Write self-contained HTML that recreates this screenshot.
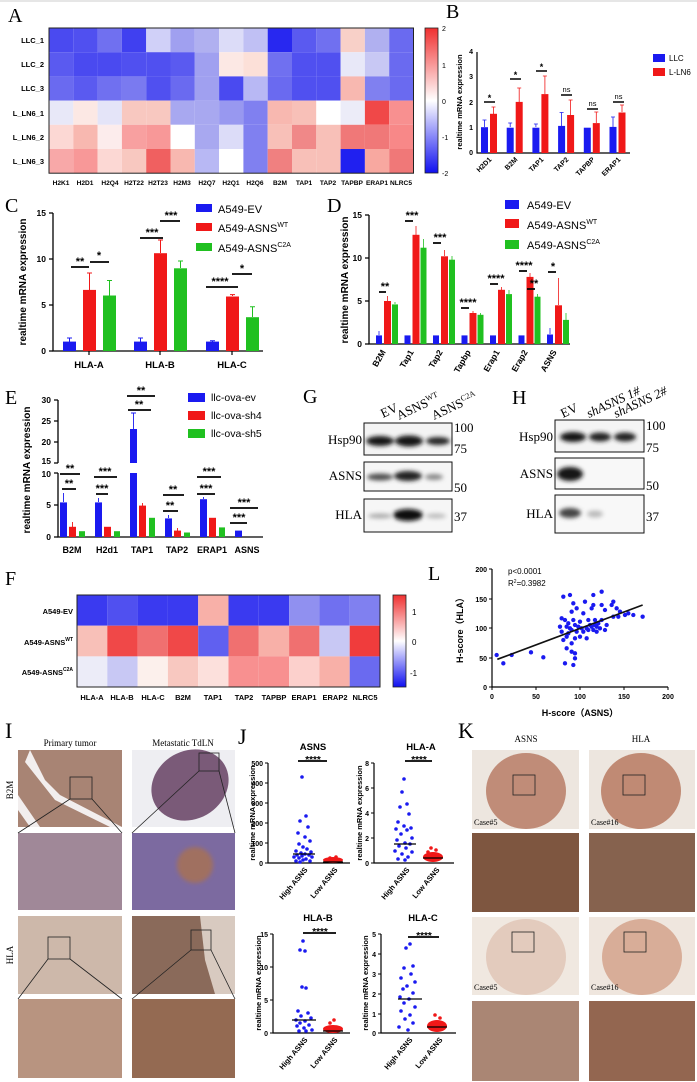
<!DOCTYPE html>
<html><head><meta charset="utf-8"><style>
body{margin:0;background:#fff}
svg{display:block}
.t{font-family:"Liberation Sans",sans-serif;font-weight:bold}
.s{font-family:"Liberation Serif",serif}
</style></head><body>
<svg width="697" height="1082" viewBox="0 0 697 1082" xmlns="http://www.w3.org/2000/svg">
<defs>
<linearGradient id="cb" x1="0" y1="0" x2="0" y2="1"><stop offset="0" stop-color="#f03030"/><stop offset="0.5" stop-color="#ffffff"/><stop offset="1" stop-color="#1010f0"/></linearGradient>
<filter id="bl"><feGaussianBlur stdDeviation="2"/></filter>
</defs>
<line x1="0" y1="1" x2="697" y2="1" stroke="#ccc"/>
<!-- A -->
<text x="8" y="22" class="s" font-size="20">A</text>
<g transform="translate(49,28)">
<rect x="0" y="0" width="24.3" height="24.2" fill="#4a4af0"/><rect x="24.3" y="0" width="24.3" height="24.2" fill="#5050f0"/><rect x="48.6" y="0" width="24.3" height="24.2" fill="#7070f0"/><rect x="72.9" y="0" width="24.3" height="24.2" fill="#4040f0"/><rect x="97.2" y="0" width="24.3" height="24.2" fill="#d0d0f8"/><rect x="121.5" y="0" width="24.3" height="24.2" fill="#a0a0f0"/><rect x="145.8" y="0" width="24.3" height="24.2" fill="#b0b0f0"/><rect x="170.1" y="0" width="24.3" height="24.2" fill="#dcdcf8"/><rect x="194.4" y="0" width="24.3" height="24.2" fill="#c0c0f4"/><rect x="218.7" y="0" width="24.3" height="24.2" fill="#2828f0"/><rect x="243" y="0" width="24.3" height="24.2" fill="#5a5af0"/><rect x="267.3" y="0" width="24.3" height="24.2" fill="#7070f0"/><rect x="291.6" y="0" width="24.3" height="24.2" fill="#f8d0c8"/><rect x="315.9" y="0" width="24.3" height="24.2" fill="#b0b0f0"/><rect x="340.2" y="0" width="24.3" height="24.2" fill="#6a6af0"/>
<rect x="0" y="24.2" width="24.3" height="24.2" fill="#5a5af0"/><rect x="24.3" y="24.2" width="24.3" height="24.2" fill="#4a4af0"/><rect x="48.6" y="24.2" width="24.3" height="24.2" fill="#4a4af0"/><rect x="72.9" y="24.2" width="24.3" height="24.2" fill="#5050f0"/><rect x="97.2" y="24.2" width="24.3" height="24.2" fill="#5050f0"/><rect x="121.5" y="24.2" width="24.3" height="24.2" fill="#5a5af0"/><rect x="145.8" y="24.2" width="24.3" height="24.2" fill="#a0a0f0"/><rect x="170.1" y="24.2" width="24.3" height="24.2" fill="#fce8e4"/><rect x="194.4" y="24.2" width="24.3" height="24.2" fill="#fce0d8"/><rect x="218.7" y="24.2" width="24.3" height="24.2" fill="#7070f0"/><rect x="243" y="24.2" width="24.3" height="24.2" fill="#5050f0"/><rect x="267.3" y="24.2" width="24.3" height="24.2" fill="#5050f0"/><rect x="291.6" y="24.2" width="24.3" height="24.2" fill="#e8e8f8"/><rect x="315.9" y="24.2" width="24.3" height="24.2" fill="#c8c8f4"/><rect x="340.2" y="24.2" width="24.3" height="24.2" fill="#6a6af0"/>
<rect x="0" y="48.4" width="24.3" height="24.2" fill="#6a6af0"/><rect x="24.3" y="48.4" width="24.3" height="24.2" fill="#5a5af0"/><rect x="48.6" y="48.4" width="24.3" height="24.2" fill="#7070f0"/><rect x="72.9" y="48.4" width="24.3" height="24.2" fill="#7a7af0"/><rect x="97.2" y="48.4" width="24.3" height="24.2" fill="#5050f0"/><rect x="121.5" y="48.4" width="24.3" height="24.2" fill="#6a6af0"/><rect x="145.8" y="48.4" width="24.3" height="24.2" fill="#a0a0f0"/><rect x="170.1" y="48.4" width="24.3" height="24.2" fill="#4a4af0"/><rect x="194.4" y="48.4" width="24.3" height="24.2" fill="#b8b8f4"/><rect x="218.7" y="48.4" width="24.3" height="24.2" fill="#6a6af0"/><rect x="243" y="48.4" width="24.3" height="24.2" fill="#5050f0"/><rect x="267.3" y="48.4" width="24.3" height="24.2" fill="#5050f0"/><rect x="291.6" y="48.4" width="24.3" height="24.2" fill="#f8b8b0"/><rect x="315.9" y="48.4" width="24.3" height="24.2" fill="#8080f0"/><rect x="340.2" y="48.4" width="24.3" height="24.2" fill="#6a6af0"/>
<rect x="0" y="72.6" width="24.3" height="24.2" fill="#e8e8f8"/><rect x="24.3" y="72.6" width="24.3" height="24.2" fill="#fce8e4"/><rect x="48.6" y="72.6" width="24.3" height="24.2" fill="#e4e4f8"/><rect x="72.9" y="72.6" width="24.3" height="24.2" fill="#f8c8c0"/><rect x="97.2" y="72.6" width="24.3" height="24.2" fill="#f8c8c0"/><rect x="121.5" y="72.6" width="24.3" height="24.2" fill="#a8a8f0"/><rect x="145.8" y="72.6" width="24.3" height="24.2" fill="#a8a8f0"/><rect x="170.1" y="72.6" width="24.3" height="24.2" fill="#9898f0"/><rect x="194.4" y="72.6" width="24.3" height="24.2" fill="#8080f0"/><rect x="218.7" y="72.6" width="24.3" height="24.2" fill="#f8b8b0"/><rect x="243" y="72.6" width="24.3" height="24.2" fill="#f8c0b8"/><rect x="267.3" y="72.6" width="24.3" height="24.2" fill="#ffffff"/><rect x="291.6" y="72.6" width="24.3" height="24.2" fill="#ececf8"/><rect x="315.9" y="72.6" width="24.3" height="24.2" fill="#f04848"/><rect x="340.2" y="72.6" width="24.3" height="24.2" fill="#f89090"/>
<rect x="0" y="96.8" width="24.3" height="24.2" fill="#fcd8d4"/><rect x="24.3" y="96.8" width="24.3" height="24.2" fill="#f8b8b0"/><rect x="48.6" y="96.8" width="24.3" height="24.2" fill="#fcecec"/><rect x="72.9" y="96.8" width="24.3" height="24.2" fill="#f8a0a0"/><rect x="97.2" y="96.8" width="24.3" height="24.2" fill="#f89898"/><rect x="121.5" y="96.8" width="24.3" height="24.2" fill="#ffffff"/><rect x="145.8" y="96.8" width="24.3" height="24.2" fill="#a8a8f0"/><rect x="170.1" y="96.8" width="24.3" height="24.2" fill="#dcdcf8"/><rect x="194.4" y="96.8" width="24.3" height="24.2" fill="#8080f0"/><rect x="218.7" y="96.8" width="24.3" height="24.2" fill="#f8c0b8"/><rect x="243" y="96.8" width="24.3" height="24.2" fill="#f08888"/><rect x="267.3" y="96.8" width="24.3" height="24.2" fill="#f8c0b8"/><rect x="291.6" y="96.8" width="24.3" height="24.2" fill="#f07878"/><rect x="315.9" y="96.8" width="24.3" height="24.2" fill="#f07878"/><rect x="340.2" y="96.8" width="24.3" height="24.2" fill="#f88888"/>
<rect x="0" y="121" width="24.3" height="24.2" fill="#f8a8a8"/><rect x="24.3" y="121" width="24.3" height="24.2" fill="#f89898"/><rect x="48.6" y="121" width="24.3" height="24.2" fill="#fcd8d4"/><rect x="72.9" y="121" width="24.3" height="24.2" fill="#f8c8c0"/><rect x="97.2" y="121" width="24.3" height="24.2" fill="#f06060"/><rect x="121.5" y="121" width="24.3" height="24.2" fill="#f8b8b0"/><rect x="145.8" y="121" width="24.3" height="24.2" fill="#b8b8f4"/><rect x="170.1" y="121" width="24.3" height="24.2" fill="#ffffff"/><rect x="194.4" y="121" width="24.3" height="24.2" fill="#8080f0"/><rect x="218.7" y="121" width="24.3" height="24.2" fill="#f08080"/><rect x="243" y="121" width="24.3" height="24.2" fill="#f8c0b8"/><rect x="267.3" y="121" width="24.3" height="24.2" fill="#f8c0b8"/><rect x="291.6" y="121" width="24.3" height="24.2" fill="#2020f0"/><rect x="315.9" y="121" width="24.3" height="24.2" fill="#f8a8a0"/><rect x="340.2" y="121" width="24.3" height="24.2" fill="#f07878"/>
<rect x="0" y="0" width="364.5" height="145.2" fill="none" stroke="#222" stroke-width="1"/>
</g>
<g class="t" font-size="7.5" text-anchor="end">
<text x="44" y="43">LLC_1</text><text x="44" y="67">LLC_2</text><text x="44" y="91">LLC_3</text><text x="44" y="116">L_LN6_1</text><text x="44" y="140">L_LN6_2</text><text x="44" y="164">L_LN6_3</text>
</g>
<g class="t" font-size="6.6" text-anchor="middle">
<text x="61" y="185">H2K1</text><text x="85" y="185">H2D1</text><text x="110" y="185">H2Q4</text><text x="134" y="185">H2T22</text><text x="158" y="185">H2T23</text><text x="182" y="185">H2M3</text><text x="207" y="185">H2Q7</text><text x="231" y="185">H2Q1</text><text x="255" y="185">H2Q6</text><text x="280" y="185">B2M</text><text x="304" y="185">TAP1</text><text x="328" y="185">TAP2</text><text x="352" y="185">TAPBP</text><text x="377" y="185">ERAP1</text><text x="401" y="185">NLRC5</text>
</g>
<rect x="425" y="28" width="13" height="145" fill="url(#cb)" stroke="#222" stroke-width="0.8"/>
<g font-family="Liberation Sans,sans-serif" font-size="7"><text x="442" y="31">2</text><text x="442" y="68">1</text><text x="442" y="104">0</text><text x="442" y="140">-1</text><text x="442" y="176">-2</text></g>

<!-- B -->
<text x="446" y="18" class="s" font-size="20">B</text>
<g stroke="#000" stroke-width="1.2" fill="none"><path d="M477 52V153H630"/></g>
<g class="t" font-size="7" text-anchor="end"><text x="473" y="155">0</text><text x="473" y="130">1</text><text x="473" y="105">2</text><text x="473" y="79">3</text><text x="473" y="54">4</text></g>
<text transform="translate(462,102) rotate(-90)" class="t" font-size="7.5" text-anchor="middle">realtime mRNA expression</text>
<g fill="#1a1af0">
<rect x="481" y="127.2" width="7" height="25.8"/><rect x="506.7" y="127.7" width="7" height="25.3"/><rect x="532.4" y="127.7" width="7" height="25.3"/><rect x="558.1" y="125.9" width="7" height="27.1"/><rect x="583.8" y="127.7" width="7" height="25.3"/><rect x="609.5" y="126.9" width="7" height="26.1"/>
</g>
<g fill="#f01818">
<rect x="490" y="113.8" width="7" height="39.2"/><rect x="515.7" y="101.9" width="7" height="51.1"/><rect x="541.4" y="94.1" width="7" height="58.9"/><rect x="567.1" y="115" width="7" height="38"/><rect x="592.8" y="123.1" width="7" height="29.9"/><rect x="618.5" y="112.5" width="7" height="40.5"/>
</g>
<g stroke="#1a1af0" stroke-width="0.8"><path d="M484.5 127V120M482.5 120h4M510.2 127V123M508.2 123h4M535.9 127V124M533.9 124h4M561.6 126V112.5M559.6 112.5h4M613 127V117M611 117h4"/></g>
<g stroke="#f01818" stroke-width="0.8"><path d="M493.5 114V107M491.5 107h4M519.2 102V88M517.2 88h4M544.9 94V76M542.9 76h4M570.6 115V100M568.6 100h4M596.3 123V112M594.3 112h4M622 112V105M620 105h4"/></g>
<g stroke="#000" stroke-width="1.5"><path d="M484 102H495M510 79H521M536 71H547M561 95H572M587 109H598M613 102H624"/></g>
<g class="t" font-size="9" text-anchor="middle"><text x="489.5" y="101">*</text><text x="515.5" y="78">*</text><text x="541.5" y="70">*</text></g>
<g font-family="Liberation Sans,sans-serif" font-size="7.5" text-anchor="middle"><text x="566.5" y="92">ns</text><text x="592.5" y="106">ns</text><text x="618.5" y="99">ns</text></g>
<g class="t" font-size="7" text-anchor="end">
<text transform="translate(492,160) rotate(-45)">H2D1</text><text transform="translate(518,160) rotate(-45)">B2M</text><text transform="translate(544,160) rotate(-45)">TAP1</text><text transform="translate(569,160) rotate(-45)">TAP2</text><text transform="translate(595,160) rotate(-45)">TAPBP</text><text transform="translate(621,160) rotate(-45)">ERAP1</text>
</g>
<rect x="653" y="54" width="12" height="8" fill="#1a1af0"/><rect x="653" y="68" width="12" height="8" fill="#f01818"/>
<g font-family="Liberation Sans,sans-serif" font-size="8"><text x="669" y="61">LLC</text><text x="669" y="75">L-LN6</text></g>

<!-- C -->
<text x="5" y="212" class="s" font-size="20">C</text>
<path d="M53 213V351H263" stroke="#000" stroke-width="1.3" fill="none"/>
<g stroke="#000" stroke-width="1.2"><path d="M49 213h4M49 259h4M49 305h4M49 351h4M89 351v4M160 351v4M232 351v4"/></g>
<g class="t" font-size="8.5" text-anchor="end"><text x="46" y="216">15</text><text x="46" y="262">10</text><text x="46" y="308">5</text><text x="46" y="354">0</text></g>
<text transform="translate(26,282) rotate(-90)" class="t" font-size="10" text-anchor="middle">realtime mRNA expression</text>
<g fill="#1a1af0"><rect x="63" y="341.6" width="13" height="9.4"/><rect x="134" y="341.6" width="13" height="9.4"/><rect x="206" y="341.6" width="13" height="9.4"/></g>
<g fill="#f01818"><rect x="83" y="289.9" width="13" height="61.1"/><rect x="154" y="253.2" width="13" height="97.8"/><rect x="226" y="296.5" width="13" height="54.5"/></g>
<g fill="#20c020"><rect x="103" y="295.5" width="13" height="55.5"/><rect x="174" y="268.3" width="13" height="82.7"/><rect x="246" y="317.2" width="13" height="33.8"/></g>
<g stroke="#1a1af0"><path d="M69.5 342V338M67 338h5M140.5 342V338M138 338h5M212.5 342V340.7M210 340.7h5"/></g>
<g stroke="#f01818"><path d="M89.5 290V273M87 273h5M160.5 253V240M158 240h5M232.5 296V294.6M230 294.6h5"/></g>
<g stroke="#20c020"><path d="M109.5 296V280.5M107 280.5h5M180.5 268V261M178 261h5M252.5 317V306.8M250 306.8h5"/></g>
<g stroke="#000" stroke-width="1.8"><path d="M71 267H89M90 262H109M140 238H163M160 221H180M206 287H238M232 274H252"/></g>
<g class="t" font-size="11" text-anchor="middle"><text x="80" y="265">**</text><text x="99" y="259">*</text><text x="152" y="236">***</text><text x="171" y="219">***</text><text x="220" y="285">****</text><text x="242" y="272">*</text></g>
<g class="t" font-size="9.5" text-anchor="middle"><text x="89" y="368">HLA-A</text><text x="160" y="368">HLA-B</text><text x="232" y="368">HLA-C</text></g>
<rect x="196" y="204" width="16" height="8" fill="#1a1af0"/><rect x="196" y="223" width="16" height="8" fill="#f01818"/><rect x="196" y="243" width="16" height="8" fill="#20c020"/>
<g font-family="Liberation Sans,sans-serif" font-size="11"><text x="218" y="213">A549-EV</text><text x="218" y="232">A549-ASNS<tspan font-size="7" dy="-5">WT</tspan></text><text x="218" y="252">A549-ASNS<tspan font-size="7" dy="-5">C2A</tspan></text></g>

<!-- D -->
<text x="327" y="212" class="s" font-size="20">D</text>
<path d="M369 215V344H570" stroke="#000" stroke-width="1.3" fill="none"/>
<g stroke="#000" stroke-width="1.2"><path d="M365 215h4M365 258h4M365 301h4M365 344h4"/></g>
<g class="t" font-size="8.5" text-anchor="end"><text x="362" y="218">15</text><text x="362" y="261">10</text><text x="362" y="304">5</text><text x="362" y="347">0</text></g>
<text transform="translate(348,280) rotate(-90)" class="t" font-size="10" text-anchor="middle">realtime mRNA expression</text>
<g fill="#1a1af0"><rect x="376" y="335.4" width="6" height="8.6"/><rect x="404.5" y="335.4" width="6" height="8.6"/><rect x="433" y="335.4" width="6" height="8.6"/><rect x="461.5" y="335.4" width="6" height="8.6"/><rect x="490" y="335.4" width="6" height="8.6"/><rect x="518.5" y="335.4" width="6" height="8.6"/><rect x="547" y="334.5" width="6" height="9.5"/></g>
<g fill="#f01818"><rect x="384" y="301" width="7" height="43"/><rect x="412.5" y="234.8" width="7" height="109.2"/><rect x="441" y="256.3" width="7" height="87.7"/><rect x="469.5" y="313" width="7" height="31"/><rect x="498" y="289.8" width="7" height="54.2"/><rect x="526.5" y="276.9" width="7" height="67.1"/><rect x="555" y="305.3" width="7" height="38.7"/></g>
<g fill="#20c020"><rect x="392" y="304.4" width="6" height="39.6"/><rect x="420.5" y="247.7" width="6" height="96.3"/><rect x="449" y="259.7" width="6" height="84.3"/><rect x="477.5" y="314.8" width="6" height="29.2"/><rect x="506" y="294.1" width="6" height="49.9"/><rect x="534.5" y="296.7" width="6" height="47.3"/><rect x="563" y="319.9" width="6" height="24.1"/></g>
<g stroke="#f01818" stroke-width="0.8"><path d="M387.5 301v-5M416 235v-9M444.5 256v-6M473 313v-2M501.5 290v-3M530 277v-4M558.5 305v-27"/></g>
<g stroke="#20c020" stroke-width="0.8"><path d="M395 304v-2M423.5 248v-9M452 260v-4M480.5 315v-2M509 294v-4M537.5 297v-3M566 320v-7"/></g>
<g stroke="#1a1af0" stroke-width="0.8"><path d="M379 335v-4M550 334v-6"/></g>
<g stroke="#000" stroke-width="1.8"><path d="M379 292H386M405 221H413M433 243H441M461 308H469M490 284H498M519 271H527M527 289H535M548 272H556"/></g>
<g class="t" font-size="11" text-anchor="middle"><text x="385" y="290">**</text><text x="412" y="219">***</text><text x="440" y="241">***</text><text x="468" y="306">****</text><text x="496" y="282">****</text><text x="524" y="269">****</text><text x="534" y="287">**</text><text x="553" y="270">*</text></g>
<g class="t" font-size="8.5" text-anchor="end">
<text transform="translate(386,352) rotate(-60)">B2M</text><text transform="translate(414,352) rotate(-60)">Tap1</text><text transform="translate(443,352) rotate(-60)">Tap2</text><text transform="translate(471,352) rotate(-60)">Tapbp</text><text transform="translate(500,352) rotate(-60)">Erap1</text><text transform="translate(528,352) rotate(-60)">Erap2</text><text transform="translate(557,352) rotate(-60)">ASNS</text>
</g>
<rect x="505" y="200" width="14" height="9" fill="#1a1af0"/><rect x="505" y="219" width="14" height="9" fill="#f01818"/><rect x="505" y="240" width="14" height="9" fill="#20c020"/>
<g font-family="Liberation Sans,sans-serif" font-size="11"><text x="527" y="209">A549-EV</text><text x="527" y="229">A549-ASNS<tspan font-size="7" dy="-5">WT</tspan></text><text x="527" y="249">A549-ASNS<tspan font-size="7" dy="-5">C2A</tspan></text></g>

<!-- E -->
<text x="5" y="404" class="s" font-size="20">E</text>
<path d="M58 400V463M58 473V537H263" stroke="#000" stroke-width="1.3" fill="none"/>
<g stroke="#000" stroke-width="1.2"><path d="M54 400h4M54 421h4M54 442h4M54 463h4M54 473h4M54 505h4M54 537h4"/></g>
<g class="t" font-size="8.5" text-anchor="end"><text x="51" y="403">30</text><text x="51" y="424">25</text><text x="51" y="445">20</text><text x="51" y="464">15</text><text x="51" y="477">10</text><text x="51" y="508">5</text><text x="51" y="540">0</text></g>
<text transform="translate(30,470) rotate(-90)" class="t" font-size="10" text-anchor="middle">realtime mRNA expression</text>
<g fill="#1a1af0"><rect x="60" y="502.4" width="7" height="34.6"/><rect x="95" y="502.4" width="7" height="34.6"/><rect x="130" y="473" width="7" height="64"/><rect x="130" y="429" width="7" height="34"/><rect x="165" y="518.4" width="7" height="18.6"/><rect x="200" y="499.2" width="7" height="37.8"/><rect x="235" y="530.6" width="7" height="6.4"/></g>
<g fill="#f01818"><rect x="69" y="526.8" width="7" height="10.2"/><rect x="104" y="526.8" width="7" height="10.2"/><rect x="139" y="505.6" width="7" height="31.4"/><rect x="174" y="530.6" width="7" height="6.4"/><rect x="209" y="517.8" width="7" height="19.2"/></g>
<g fill="#20c020"><rect x="79" y="531.2" width="6" height="5.8"/><rect x="114" y="531.2" width="6" height="5.8"/><rect x="149" y="517.8" width="6" height="19.2"/><rect x="184" y="532.5" width="6" height="4.5"/><rect x="219" y="527.4" width="6" height="9.6"/></g>
<g stroke="#1a1af0" stroke-width="0.9"><path d="M63.5 502v-9M98.5 502v-4M133.5 429v-16M131 413h5M168.5 518v-3M203.5 499v-2"/></g>
<g stroke="#f01818" stroke-width="0.9"><path d="M72.5 527v-5M142.5 506v-3M177.5 531v-3"/></g>
<g stroke="#000" stroke-width="1.8"><path d="M60 474H80M62 489H76M94 477H117M96 494H108M127 396H155M128 410H151M163 495H184M163 511H178M197 477H221M197 494H215M230 508H258M230 523H247"/></g>
<g class="t" font-size="11" text-anchor="middle"><text x="70" y="472">**</text><text x="69" y="487">**</text><text x="105" y="475">***</text><text x="102" y="492">***</text><text x="141" y="394">**</text><text x="139" y="408">**</text><text x="173" y="493">**</text><text x="170" y="509">**</text><text x="209" y="475">***</text><text x="206" y="492">***</text><text x="244" y="506">***</text><text x="239" y="521">***</text></g>
<g class="t" font-size="9" text-anchor="middle"><text x="72" y="553">B2M</text><text x="107" y="553">H2d1</text><text x="142" y="553">TAP1</text><text x="177" y="553">TAP2</text><text x="212" y="553">ERAP1</text><text x="247" y="553">ASNS</text></g>
<rect x="188" y="393" width="17" height="9" fill="#1a1af0"/><rect x="188" y="411" width="17" height="9" fill="#f01818"/><rect x="188" y="429" width="17" height="9" fill="#20c020"/>
<g font-family="Liberation Sans,sans-serif" font-size="10.5"><text x="211" y="401">llc-ova-ev</text><text x="211" y="419">llc-ova-sh4</text><text x="211" y="437">llc-ova-sh5</text></g>

<!-- G -->
<text x="303" y="403" class="s" font-size="20">G</text>
<g class="s" font-size="13"><text transform="translate(383,418) rotate(-25)">EV</text><text transform="translate(399,420) rotate(-25)">ASNS<tspan font-size="8" dy="-5">WT</tspan></text><text transform="translate(434,420) rotate(-25)">ASNS<tspan font-size="8" dy="-5">C2A</tspan></text></g>
<rect x="364" y="423" width="88" height="32" fill="#f4f4f4" stroke="#111"/>
<rect x="364" y="462" width="88" height="29" fill="#f6f6f6" stroke="#111"/>
<rect x="364" y="499" width="88" height="33" fill="#f6f6f6" stroke="#111"/>
<g filter="url(#bl)"><ellipse cx="380" cy="441" rx="14" ry="5" fill="#181818"/><ellipse cx="409" cy="441" rx="14" ry="5.5" fill="#181818"/><ellipse cx="438" cy="441" rx="12" ry="4" fill="#282828"/>
<ellipse cx="380" cy="477" rx="13" ry="3.5" fill="#505050"/><ellipse cx="408" cy="476" rx="14" ry="5" fill="#222"/><ellipse cx="434" cy="477" rx="9" ry="3" fill="#888"/>
<ellipse cx="380" cy="516" rx="12" ry="2.5" fill="#aaa"/><ellipse cx="408" cy="515" rx="15" ry="6" fill="#111"/><ellipse cx="436" cy="516" rx="10" ry="2.5" fill="#bbb"/></g>
<g class="s" font-size="13" text-anchor="end"><text x="362" y="444">Hsp90</text><text x="362" y="480">ASNS</text><text x="362" y="519">HLA</text></g>
<g class="s" font-size="13"><text x="454" y="432">100</text><text x="454" y="453">75</text><text x="454" y="492">50</text><text x="454" y="521">37</text></g>

<!-- H -->
<text x="512" y="404" class="s" font-size="20">H</text>
<g class="s" font-size="13" font-style="italic"><text transform="translate(563,418) rotate(-25)" font-style="normal">EV</text><text transform="translate(589,418) rotate(-25)">shASNS 1#</text><text transform="translate(616,418) rotate(-25)">shASNS 2#</text></g>
<rect x="555" y="420" width="89" height="32" fill="#f4f4f4" stroke="#111"/>
<rect x="555" y="458" width="89" height="31" fill="#f8f8f8" stroke="#111"/>
<rect x="555" y="495" width="89" height="38" fill="#f8f8f8" stroke="#111"/>
<g filter="url(#bl)"><ellipse cx="573" cy="437" rx="13" ry="5" fill="#181818"/><ellipse cx="600" cy="437" rx="11" ry="4.5" fill="#222"/><ellipse cx="625" cy="437" rx="11" ry="4.5" fill="#222"/>
<ellipse cx="570" cy="474" rx="13" ry="7" fill="#181818"/>
<ellipse cx="570" cy="513" rx="11" ry="5" fill="#444"/><ellipse cx="595" cy="514" rx="8" ry="3.5" fill="#bbb"/></g>
<g class="s" font-size="13" text-anchor="end"><text x="553" y="441">Hsp90</text><text x="553" y="478">ASNS</text><text x="553" y="518">HLA</text></g>
<g class="s" font-size="13"><text x="646" y="430">100</text><text x="646" y="452">75</text><text x="646" y="490">50</text><text x="646" y="521">37</text></g>

<!-- F -->
<text x="5" y="585" class="s" font-size="20">F</text>
<g transform="translate(77,595)">
<rect x="0" y="0" width="30.3" height="30.7" fill="#3a3af0"/><rect x="30.3" y="0" width="30.3" height="30.7" fill="#5050f0"/><rect x="60.6" y="0" width="30.3" height="30.7" fill="#3a3af0"/><rect x="90.9" y="0" width="30.3" height="30.7" fill="#3a3af0"/><rect x="121.2" y="0" width="30.3" height="30.7" fill="#f8b0a8"/><rect x="151.5" y="0" width="30.3" height="30.7" fill="#3a3af0"/><rect x="181.8" y="0" width="30.3" height="30.7" fill="#3a3af0"/><rect x="212.1" y="0" width="30.3" height="30.7" fill="#9090f0"/><rect x="242.4" y="0" width="30.3" height="30.7" fill="#7070f0"/><rect x="272.7" y="0" width="30.3" height="30.7" fill="#8080f0"/>
<rect x="0" y="30.7" width="30.3" height="30.7" fill="#f8c0b8"/><rect x="30.3" y="30.7" width="30.3" height="30.7" fill="#f04848"/><rect x="60.6" y="30.7" width="30.3" height="30.7" fill="#f07070"/><rect x="90.9" y="30.7" width="30.3" height="30.7" fill="#f04848"/><rect x="121.2" y="30.7" width="30.3" height="30.7" fill="#6060f0"/><rect x="151.5" y="30.7" width="30.3" height="30.7" fill="#f07070"/><rect x="181.8" y="30.7" width="30.3" height="30.7" fill="#f8b0a8"/><rect x="212.1" y="30.7" width="30.3" height="30.7" fill="#f07070"/><rect x="242.4" y="30.7" width="30.3" height="30.7" fill="#c8c8f4"/><rect x="272.7" y="30.7" width="30.3" height="30.7" fill="#f03c3c"/>
<rect x="0" y="61.4" width="30.3" height="30.7" fill="#ececf8"/><rect x="30.3" y="61.4" width="30.3" height="30.7" fill="#c8c8f4"/><rect x="60.6" y="61.4" width="30.3" height="30.7" fill="#fcf0ec"/><rect x="90.9" y="61.4" width="30.3" height="30.7" fill="#f8c8c0"/><rect x="121.2" y="61.4" width="30.3" height="30.7" fill="#fce0dc"/><rect x="151.5" y="61.4" width="30.3" height="30.7" fill="#f89090"/><rect x="181.8" y="61.4" width="30.3" height="30.7" fill="#f89090"/><rect x="212.1" y="61.4" width="30.3" height="30.7" fill="#fcd0cc"/><rect x="242.4" y="61.4" width="30.3" height="30.7" fill="#f8b0a8"/><rect x="272.7" y="61.4" width="30.3" height="30.7" fill="#6a6af0"/>
<rect x="0" y="0" width="303" height="92" fill="none" stroke="#222"/>
</g>
<g class="t" font-size="7.5" text-anchor="end"><text x="73" y="614">A549-EV</text><text x="73" y="645">A549-ASNS<tspan font-size="5" dy="-4">WT</tspan></text><text x="73" y="675">A549-ASNS<tspan font-size="5" dy="-4">C2A</tspan></text></g>
<g class="t" font-size="7.5" text-anchor="middle"><text x="92" y="700">HLA-A</text><text x="122" y="700">HLA-B</text><text x="153" y="700">HLA-C</text><text x="183" y="700">B2M</text><text x="213" y="700">TAP1</text><text x="244" y="700">TAP2</text><text x="274" y="700">TAPBP</text><text x="304" y="700">ERAP1</text><text x="335" y="700">ERAP2</text><text x="365" y="700">NLRC5</text></g>
<rect x="393" y="595" width="13" height="92" fill="url(#cb)" stroke="#222" stroke-width="0.8"/>
<g font-family="Liberation Sans,sans-serif" font-size="8"><text x="412" y="615">1</text><text x="412" y="645">0</text><text x="410" y="676">-1</text></g>

<!-- L -->
<text x="428" y="580" class="s" font-size="20">L</text>
<path d="M492 569V687H668" stroke="#000" stroke-width="1.2" fill="none"/>
<g stroke="#000"><path d="M489 569h3M489 599h3M489 628h3M489 658h3M489 687h3M492 687v3M536 687v3M580 687v3M624 687v3M668 687v3"/></g>
<g class="t" font-size="7" text-anchor="end"><text x="487" y="572">200</text><text x="487" y="602">150</text><text x="487" y="631">100</text><text x="487" y="661">50</text><text x="487" y="690">0</text></g>
<g class="t" font-size="7" text-anchor="middle"><text x="492" y="699">0</text><text x="536" y="699">50</text><text x="580" y="699">100</text><text x="624" y="699">150</text><text x="668" y="699">200</text></g>
<text x="580" y="716" class="t" font-size="9" text-anchor="middle">H-score（ASNS）</text>
<text transform="translate(463,628) rotate(-90)" class="t" font-size="9" text-anchor="middle">H-score（HLA）</text>
<g font-family="Liberation Sans,sans-serif" font-size="8"><text x="508" y="574">p&lt;0.0001</text><text x="508" y="586">R<tspan font-size="5" dy="-3">2</tspan><tspan dy="3">=0.3982</tspan></text></g>
<g transform="translate(420,560) scale(0.3333)" fill="#1a1af0">
<circle cx="230" cy="285" r="6.5"/><circle cx="250" cy="310" r="6.5"/><circle cx="275" cy="285" r="6.5"/><circle cx="333" cy="277" r="6.5"/><circle cx="370" cy="292" r="6.5"/><circle cx="420" cy="200" r="6.5"/><circle cx="425" cy="175" r="6.5"/><circle cx="430" cy="110" r="6.5"/><circle cx="435" cy="180" r="6.5"/><circle cx="430" cy="240" r="6.5"/><circle cx="440" cy="265" r="6.5"/><circle cx="445" cy="190" r="6.5"/><circle cx="445" cy="220" r="6.5"/><circle cx="450" cy="205" r="6.5"/><circle cx="455" cy="210" r="6.5"/><circle cx="455" cy="155" r="6.5"/><circle cx="460" cy="130" r="6.5"/><circle cx="460" cy="180" r="6.5"/><circle cx="465" cy="195" r="6.5"/><circle cx="465" cy="235" r="6.5"/><circle cx="465" cy="280" r="6.5"/><circle cx="470" cy="145" r="6.5"/><circle cx="470" cy="215" r="6.5"/><circle cx="455" cy="250" r="6.5"/><circle cx="460" cy="315" r="6.5"/><circle cx="435" cy="310" r="6.5"/><circle cx="475" cy="200" r="6.5"/><circle cx="480" cy="185" r="6.5"/><circle cx="485" cy="205" r="6.5"/><circle cx="490" cy="160" r="6.5"/><circle cx="495" cy="125" r="6.5"/><circle cx="500" cy="205" r="6.5"/><circle cx="505" cy="180" r="6.5"/><circle cx="510" cy="195" r="6.5"/><circle cx="500" cy="235" r="6.5"/><circle cx="515" cy="200" r="6.5"/><circle cx="520" cy="210" r="6.5"/><circle cx="525" cy="180" r="6.5"/><circle cx="530" cy="200" r="6.5"/><circle cx="515" cy="145" r="6.5"/><circle cx="520" cy="135" r="6.5"/><circle cx="520" cy="105" r="6.5"/><circle cx="525" cy="195" r="6.5"/><circle cx="535" cy="190" r="6.5"/><circle cx="540" cy="205" r="6.5"/><circle cx="545" cy="180" r="6.5"/><circle cx="545" cy="135" r="6.5"/><circle cx="555" cy="150" r="6.5"/><circle cx="555" cy="210" r="6.5"/><circle cx="560" cy="195" r="6.5"/><circle cx="545" cy="95" r="6.5"/><circle cx="575" cy="135" r="6.5"/><circle cx="580" cy="125" r="6.5"/><circle cx="580" cy="170" r="6.5"/><circle cx="590" cy="145" r="6.5"/><circle cx="595" cy="170" r="6.5"/><circle cx="600" cy="155" r="6.5"/><circle cx="615" cy="165" r="6.5"/><circle cx="625" cy="160" r="6.5"/><circle cx="640" cy="165" r="6.5"/><circle cx="668" cy="170" r="6.5"/><circle cx="450" cy="105" r="6.5"/><circle cx="440" cy="230" r="6.5"/><circle cx="455" cy="275" r="6.5"/><circle cx="465" cy="295" r="6.5"/><circle cx="490" cy="215" r="6.5"/><circle cx="480" cy="230" r="6.5"/><circle cx="425" cy="215" r="6.5"/><circle cx="440" cy="200" r="6.5"/><circle cx="505" cy="210" r="6.5"/><circle cx="530" cy="215" r="6.5"/>
<line x1="232" y1="298" x2="668" y2="135" stroke="#111" stroke-width="5"/>
</g>

<!-- I -->
<text x="5" y="738" class="s" font-size="22">I</text>
<g class="s" font-size="9" text-anchor="middle"><text x="70" y="746">Primary tumor</text><text x="183" y="746">Metastatic TdLN</text></g>
<text transform="translate(13,790) rotate(-90)" class="s" font-size="9" text-anchor="middle">B2M</text>
<text transform="translate(13,955) rotate(-90)" class="s" font-size="9" text-anchor="middle">HLA</text>
<rect x="18" y="750" width="104" height="77" fill="#a88474"/>
<path d="M30 750 L45 780 L60 795 L122 827 L110 827 L55 800 L25 762Z" fill="#f2eeee"/>
<path d="M18 795 L40 827 L30 827 L18 810Z" fill="#f2eeee"/>
<rect x="70" y="777" width="22" height="22" fill="none" stroke="#222" stroke-width="0.8"/>
<rect x="132" y="750" width="103" height="77" fill="#eeeef2"/>
<ellipse cx="190" cy="785" rx="40" ry="34" fill="#7a5a78" transform="rotate(-30 190 785)"/>
<rect x="199" y="753" width="20" height="18" fill="none" stroke="#222" stroke-width="0.8"/>
<rect x="18" y="833" width="104" height="77" fill="#a08898"/>
<rect x="132" y="833" width="103" height="77" fill="#7c6aa0"/>
<circle cx="195" cy="865" r="18" fill="#a07060" filter="url(#bl)"/>
<g stroke="#222" stroke-width="0.8"><path d="M70 799L18 833M92 799L122 833M199 771L132 833M219 771L235 833"/></g>
<rect x="18" y="916" width="104" height="78" fill="#cdb8aa"/>
<rect x="132" y="916" width="103" height="78" fill="#8a6a5a"/>
<path d="M200 916 L235 916 L235 994 L215 994 L205 960Z" fill="#d8cac0"/>
<rect x="48" y="937" width="22" height="22" fill="none" stroke="#222" stroke-width="0.8"/>
<rect x="191" y="930" width="20" height="20" fill="none" stroke="#222" stroke-width="0.8"/>
<g stroke="#222" stroke-width="0.8"><path d="M48 959L18 999M70 959L122 999M191 950L132 999M211 950L235 999"/></g>
<rect x="18" y="999" width="104" height="79" fill="#b89480"/>
<rect x="132" y="999" width="103" height="79" fill="#946a52"/>

<!-- J -->
<text x="238" y="744" class="s" font-size="22">J</text>
<g class="t" font-size="9.5" text-anchor="middle"><text x="313" y="750">ASNS</text><text x="421" y="750">HLA-A</text><text x="318" y="921">HLA-B</text><text x="423" y="921">HLA-C</text></g>
<g stroke="#000" stroke-width="1.2" fill="none"><path d="M268 763V863H350M374 763V863H454M273 934V1033H350M381 934V1033H456"/></g>
<g stroke="#000"><path d="M265 763h3M265 783h3M265 803h3M265 823h3M265 843h3M265 863h3M371 763h3M371 788h3M371 813h3M371 838h3M371 863h3M270 934h3M270 967h3M270 1000h3M270 1033h3M378 934h3M378 954h3M378 974h3M378 994h3M378 1014h3M378 1033h3"/></g>
<g class="t" font-size="7" text-anchor="end">
<text x="263" y="766">500</text><text x="263" y="786">400</text><text x="263" y="806">300</text><text x="263" y="826">200</text><text x="263" y="846">100</text><text x="263" y="866">0</text>
<text x="369" y="766">8</text><text x="369" y="791">6</text><text x="369" y="816">4</text><text x="369" y="841">2</text><text x="369" y="866">0</text>
<text x="268" y="937">15</text><text x="268" y="970">10</text><text x="268" y="1003">5</text><text x="268" y="1036">0</text>
<text x="376" y="937">5</text><text x="376" y="957">4</text><text x="376" y="977">3</text><text x="376" y="997">2</text><text x="376" y="1017">1</text><text x="376" y="1036">0</text>
</g>
<g class="t" font-size="7.5" text-anchor="middle"><text transform="translate(255,813) rotate(-90)">realtime mRNA expression</text><text transform="translate(362,813) rotate(-90)">realtime mRNA expression</text><text transform="translate(261,983) rotate(-90)">realtime mRNA expression</text><text transform="translate(368,983) rotate(-90)">realtime mRNA expression</text></g>
<g class="t" font-size="7.5" text-anchor="end">
<text transform="translate(308,870) rotate(-50)">High ASNS</text><text transform="translate(338,870) rotate(-50)">Low ASNS</text>
<text transform="translate(410,870) rotate(-50)">High ASNS</text><text transform="translate(440,870) rotate(-50)">Low ASNS</text>
<text transform="translate(308,1040) rotate(-50)">High ASNS</text><text transform="translate(338,1040) rotate(-50)">Low ASNS</text>
<text transform="translate(413,1040) rotate(-50)">High ASNS</text><text transform="translate(443,1040) rotate(-50)">Low ASNS</text>
</g>
<g stroke="#000" stroke-width="1.8"><path d="M298 761H327M405 761H432M303 933H336M408 937H439"/></g>
<g class="t" font-size="10" text-anchor="middle"><text x="313" y="763">****</text><text x="419" y="763">****</text><text x="320" y="935">****</text><text x="424" y="939">****</text></g>
<g fill="#1a1af0">
<circle cx="302" cy="777" r="1.8"/><circle cx="306" cy="816" r="1.8"/><circle cx="300" cy="821" r="1.8"/><circle cx="308" cy="827" r="1.8"/><circle cx="298" cy="833" r="1.8"/><circle cx="305" cy="837" r="1.8"/><circle cx="310" cy="841" r="1.8"/><circle cx="299" cy="844" r="1.8"/><circle cx="303" cy="847" r="1.8"/><circle cx="307" cy="849" r="1.8"/><circle cx="296" cy="851" r="1.8"/><circle cx="311" cy="852" r="1.8"/><circle cx="301" cy="853" r="1.8"/><circle cx="305" cy="854" r="1.8"/><circle cx="297" cy="855" r="1.8"/><circle cx="309" cy="855" r="1.8"/><circle cx="302" cy="856" r="1.8"/><circle cx="294" cy="857" r="1.8"/><circle cx="312" cy="857" r="1.8"/><circle cx="299" cy="858" r="1.8"/><circle cx="306" cy="859" r="1.8"/><circle cx="303" cy="860" r="1.8"/><circle cx="296" cy="861" r="1.8"/><circle cx="310" cy="861" r="1.8"/><circle cx="300" cy="862" r="1.8"/>
<circle cx="404" cy="779" r="1.8"/><circle cx="402" cy="792" r="1.8"/><circle cx="407" cy="804" r="1.8"/><circle cx="400" cy="807" r="1.8"/><circle cx="409" cy="814" r="1.8"/><circle cx="398" cy="822" r="1.8"/><circle cx="404" cy="826" r="1.8"/><circle cx="411" cy="828" r="1.8"/><circle cx="396" cy="829" r="1.8"/><circle cx="407" cy="830" r="1.8"/><circle cx="401" cy="834" r="1.8"/><circle cx="412" cy="838" r="1.8"/><circle cx="397" cy="840" r="1.8"/><circle cx="405" cy="843" r="1.8"/><circle cx="410" cy="844" r="1.8"/><circle cx="399" cy="846" r="1.8"/><circle cx="406" cy="848" r="1.8"/><circle cx="395" cy="851" r="1.8"/><circle cx="412" cy="852" r="1.8"/><circle cx="402" cy="854" r="1.8"/><circle cx="408" cy="857" r="1.8"/><circle cx="398" cy="859" r="1.8"/><circle cx="405" cy="860" r="1.8"/>
<circle cx="303" cy="941" r="1.8"/><circle cx="300" cy="950" r="1.8"/><circle cx="305" cy="951" r="1.8"/><circle cx="302" cy="987" r="1.8"/><circle cx="306" cy="988" r="1.8"/><circle cx="298" cy="1011" r="1.8"/><circle cx="308" cy="1013" r="1.8"/><circle cx="301" cy="1016" r="1.8"/><circle cx="311" cy="1018" r="1.8"/><circle cx="296" cy="1020" r="1.8"/><circle cx="305" cy="1021" r="1.8"/><circle cx="300" cy="1023" r="1.8"/><circle cx="309" cy="1025" r="1.8"/><circle cx="297" cy="1026" r="1.8"/><circle cx="304" cy="1028" r="1.8"/><circle cx="312" cy="1030" r="1.8"/><circle cx="299" cy="1031" r="1.8"/><circle cx="306" cy="1031" r="1.8"/>
<circle cx="410" cy="944" r="1.8"/><circle cx="406" cy="948" r="1.8"/><circle cx="413" cy="966" r="1.8"/><circle cx="404" cy="968" r="1.8"/><circle cx="411" cy="974" r="1.8"/><circle cx="401" cy="978" r="1.8"/><circle cx="415" cy="982" r="1.8"/><circle cx="407" cy="986" r="1.8"/><circle cx="403" cy="989" r="1.8"/><circle cx="413" cy="993" r="1.8"/><circle cx="400" cy="997" r="1.8"/><circle cx="409" cy="999" r="1.8"/><circle cx="404" cy="1003" r="1.8"/><circle cx="415" cy="1007" r="1.8"/><circle cx="401" cy="1011" r="1.8"/><circle cx="410" cy="1015" r="1.8"/><circle cx="405" cy="1019" r="1.8"/><circle cx="413" cy="1023" r="1.8"/><circle cx="399" cy="1027" r="1.8"/><circle cx="408" cy="1030" r="1.8"/>
</g>
<g fill="#f01818">
<ellipse cx="333" cy="860" rx="10" ry="3"/><circle cx="336" cy="857" r="1.8"/><circle cx="330" cy="858" r="1.8"/>
<ellipse cx="433" cy="857" rx="10" ry="5"/><circle cx="431" cy="848" r="1.8"/><circle cx="436" cy="850" r="1.8"/><circle cx="428" cy="852" r="1.8"/>
<ellipse cx="333" cy="1029" rx="10" ry="4"/><circle cx="334" cy="1020" r="1.8"/><circle cx="330" cy="1023" r="1.8"/>
<ellipse cx="437" cy="1026" rx="10" ry="6"/><circle cx="435" cy="1015" r="1.8"/><circle cx="440" cy="1018" r="1.8"/>
</g>
<g stroke="#000" stroke-width="1.2"><path d="M293 854H315M323 862H343M394 844H416M423 858H443M292 1020H316M323 1031H343M398 999H422M427 1027H447"/></g>

<!-- K -->
<text x="458" y="738" class="s" font-size="22">K</text>
<g class="s" font-size="9" text-anchor="middle"><text x="526" y="742">ASNS</text><text x="641" y="742">HLA</text></g>
<rect x="472" y="750" width="107" height="79" fill="#ede6df"/>
<rect x="589" y="750" width="106" height="79" fill="#ede6df"/>
<ellipse cx="526" cy="791" rx="40" ry="38" fill="#c08c78"/>
<ellipse cx="641" cy="791" rx="40" ry="38" fill="#c08a74"/>
<rect x="513" y="775" width="22" height="20" fill="none" stroke="#222" stroke-width="0.8"/>
<rect x="623" y="775" width="22" height="20" fill="none" stroke="#222" stroke-width="0.8"/>
<g class="s" font-size="8"><text x="474" y="825">Case#5</text><text x="591" y="825">Case#16</text></g>
<rect x="472" y="833" width="107" height="79" fill="#7e5640"/>
<rect x="589" y="833" width="106" height="79" fill="#86624e"/>
<rect x="472" y="917" width="107" height="78" fill="#f0e8e0"/>
<rect x="589" y="917" width="106" height="78" fill="#efe6de"/>
<ellipse cx="526" cy="957" rx="40" ry="38" fill="#e3cbbd"/>
<ellipse cx="642" cy="957" rx="40" ry="38" fill="#d8ad98"/>
<rect x="512" y="932" width="22" height="20" fill="none" stroke="#222" stroke-width="0.8"/>
<rect x="624" y="932" width="22" height="20" fill="none" stroke="#222" stroke-width="0.8"/>
<g class="s" font-size="8"><text x="474" y="990">Case#5</text><text x="591" y="990">Case#16</text></g>
<rect x="472" y="1001" width="107" height="80" fill="#aa8674"/>
<rect x="589" y="1001" width="106" height="80" fill="#936650"/>
</svg>
</body></html>
